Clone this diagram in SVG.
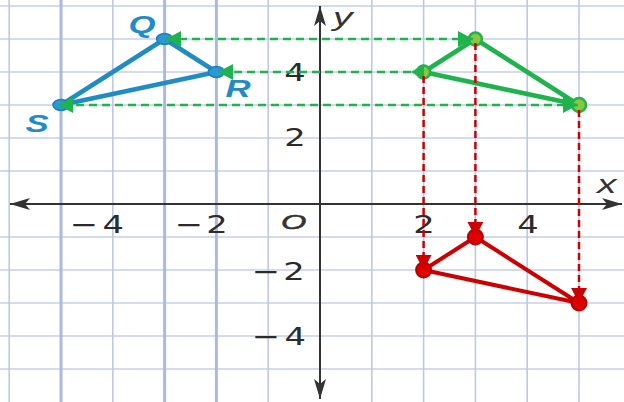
<svg xmlns="http://www.w3.org/2000/svg" width="624" height="402" viewBox="0 0 624 402">
<defs>
<style>
.gh{stroke:#c6cfe6;stroke-width:1.5}
.gv{stroke:#bcc8e6;stroke-width:1.6}
.gvb{stroke:#a9bae2;stroke-width:3}
.axis{stroke:#333;stroke-width:2;fill:none}
.num{font-family:"DejaVu Sans","Liberation Sans",sans-serif;font-size:25px;fill:#2b2b2b}
.ital{font-family:"Liberation Sans",Arial,sans-serif;font-style:italic;fill:#333}
.lab{font-family:"Liberation Sans",Arial,sans-serif;font-style:italic;font-weight:bold;font-size:24px;fill:#1f8cc6}
.tb{stroke:#1f8cc6;stroke-width:4.5;fill:none;stroke-linejoin:round}
.tg{stroke:#1eb34c;stroke-width:4.5;fill:none;stroke-linejoin:round}
.tr{stroke:#cc0000;stroke-width:4;fill:none;stroke-linejoin:round}
.dg{stroke:#1eb34c;stroke-width:2.5;stroke-dasharray:8 5;fill:none}
.dr{stroke:#cc0000;stroke-width:2.5;stroke-dasharray:7 4;fill:none}
.pb{fill:#2a98d2;stroke:#1a7fb8;stroke-width:1.5}
.pg{fill:#8cc63f;stroke:#22b14c;stroke-width:2.5}
.pr{fill:#e00000;stroke:#b40000;stroke-width:2}
</style>
<marker id="ax" viewBox="0 0 20 12" refX="20" refY="6" markerWidth="20" markerHeight="12" markerUnits="userSpaceOnUse" orient="auto-start-reverse">
<path d="M0,0 L20,6 L0,12 L5,6 z" fill="#333"/>
</marker>
<marker id="ag" viewBox="0 0 15 16" refX="15" refY="8" markerWidth="15" markerHeight="16" markerUnits="userSpaceOnUse" orient="auto-start-reverse">
<path d="M0,0 L15,8 L0,16 z" fill="#1eb34c"/>
</marker>
<marker id="agb" viewBox="0 0 13 16" refX="0" refY="8" markerWidth="13" markerHeight="16" markerUnits="userSpaceOnUse" orient="auto">
<path d="M0,0 L13,8 L0,16 z" fill="#1eb34c"/>
</marker>
<marker id="ar" viewBox="0 0 15 16" refX="13" refY="8" markerWidth="15" markerHeight="16" markerUnits="userSpaceOnUse" orient="auto">
<path d="M0,0 L15,8 L0,16 z" fill="#cc0000"/>
</marker>
</defs>
<rect width="624" height="402" fill="#fff"/>
<g id="grid">
<line class="gh" x1="0" y1="6" x2="624" y2="6"/>
<line class="gh" x1="0" y1="39" x2="624" y2="39"/>
<line class="gh" x1="0" y1="72" x2="624" y2="72"/>
<line class="gh" x1="0" y1="105" x2="624" y2="105"/>
<line class="gh" x1="0" y1="138" x2="624" y2="138"/>
<line class="gh" x1="0" y1="171" x2="624" y2="171"/>
<line class="gh" x1="0" y1="237" x2="624" y2="237"/>
<line class="gh" x1="0" y1="270" x2="624" y2="270"/>
<line class="gh" x1="0" y1="303" x2="624" y2="303"/>
<line class="gh" x1="0" y1="336" x2="624" y2="336"/>
<line class="gh" x1="0" y1="369" x2="624" y2="369"/>
<line class="gv" x1="9.2" y1="0" x2="9.2" y2="402"/>
<line class="gvb" x1="61" y1="0" x2="61" y2="402"/>
<line class="gv" x1="112.8" y1="0" x2="112.8" y2="402"/>
<line class="gvb" x1="164.6" y1="0" x2="164.6" y2="402"/>
<line class="gvb" x1="216.4" y1="0" x2="216.4" y2="402"/>
<line class="gv" x1="268.2" y1="0" x2="268.2" y2="402"/>
<line class="gv" x1="371.8" y1="0" x2="371.8" y2="402"/>
<line class="gv" x1="423.6" y1="0" x2="423.6" y2="402"/>
<line class="gv" x1="475.4" y1="0" x2="475.4" y2="402"/>
<line class="gv" x1="527.2" y1="0" x2="527.2" y2="402"/>
<line class="gv" x1="579" y1="0" x2="579" y2="402"/>
</g>
<g id="axes">
<line class="axis" x1="10" y1="204" x2="622" y2="204" marker-start="url(#ax)" marker-end="url(#ax)"/>
<line class="axis" x1="320" y1="6" x2="320" y2="399" marker-start="url(#ax)" marker-end="url(#ax)"/>
<text class="ital" font-size="26" transform="translate(333,26) scale(1.5,1)">y</text>
<text class="ital" font-size="26" transform="translate(597,193) scale(1.5,1)">x</text>
<text class="ital" font-size="21" stroke="#333" stroke-width="0.6" transform="translate(281,229) scale(1.55,1)">O</text>
<text class="num" transform="translate(70,233) scale(1.35,1)" textLength="40" lengthAdjust="spacing">−4</text>
<text class="num" transform="translate(175,233) scale(1.35,1)" textLength="39" lengthAdjust="spacing">−2</text>
<text class="num" text-anchor="middle" transform="translate(424,233) scale(1.35,1)">2</text>
<text class="num" text-anchor="middle" transform="translate(528,233) scale(1.35,1)">4</text>
<text class="num" text-anchor="middle" transform="translate(295,81) scale(1.35,1)">4</text>
<text class="num" text-anchor="middle" transform="translate(295,146) scale(1.35,1)">2</text>
<text class="num" transform="translate(252,280) scale(1.35,1)" textLength="39" lengthAdjust="spacing">−2</text>
<text class="num" transform="translate(252,345) scale(1.35,1)" textLength="40" lengthAdjust="spacing">−4</text>
</g>
<g id="edges">
<polygon class="tb" points="164.6,39 216.4,72 61,105"/>
<polygon class="tg" points="423.6,72 475.4,39 579,105"/>
<polygon class="tr" points="423.6,270 475.4,237 579,303"/>
</g>
<g id="node-Q">
<ellipse class="pb" cx="164.6" cy="39" rx="8" ry="5.5"/>
<text class="lab" text-anchor="middle" transform="translate(142,33) scale(1.45,1)">Q</text>
</g>
<g id="node-R">
<ellipse class="pb" cx="216.4" cy="72" rx="8" ry="5.5"/>
<text class="lab" text-anchor="middle" transform="translate(238,97) scale(1.45,1)">R</text>
</g>
<g id="node-S">
<ellipse class="pb" cx="61" cy="105" rx="8" ry="5.5"/>
<text class="lab" text-anchor="middle" transform="translate(37,132) scale(1.45,1)">S</text>
</g>
<g id="node-G1"><circle class="pg" cx="423.6" cy="72" r="6.5"/></g>
<g id="node-G2"><circle class="pg" cx="475.4" cy="39" r="6.5"/></g>
<g id="node-G3"><circle class="pg" cx="579" cy="105" r="7"/></g>
<g id="node-R1"><circle class="pr" cx="423.6" cy="270" r="7.5"/></g>
<g id="node-R2"><circle class="pr" cx="475.4" cy="237" r="7.5"/></g>
<g id="node-R3"><circle class="pr" cx="579" cy="303" r="7.5"/></g>
<g id="connectors">
<path class="dg" d="M473,39 H166" marker-start="url(#ag)" marker-end="url(#ag)"/>
<path class="dg" d="M424,72 H218" marker-start="url(#agb)" marker-end="url(#ag)"/>
<path class="dg" d="M578,105 H58" marker-start="url(#ag)" marker-end="url(#ag)"/>
<path class="dr" d="M423.6,76 V268" marker-end="url(#ar)"/>
<path class="dr" d="M475.4,43 V235" marker-end="url(#ar)"/>
<path class="dr" d="M579,110 V301" marker-end="url(#ar)"/>
</g>
</svg>
